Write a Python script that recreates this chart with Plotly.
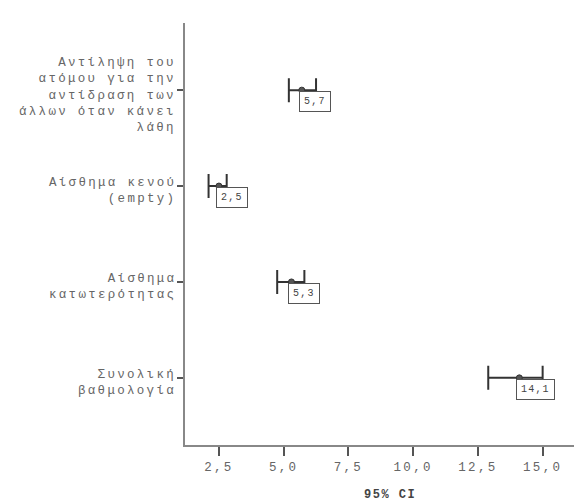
import plotly.graph_objects as go

categories = [
    "Αντίληψη του<br>ατόμου για την<br>αντίδραση των<br>άλλων όταν κάνει<br>λάθη",
    "Αίσθημα κενού<br>(empty)",
    "Αίσθημα<br>κατωτερότητας",
    "Συνολική<br>βαθμολογία",
]
means = [5.7, 2.5, 5.3, 14.1]
ci_lower = [5.2, 2.1, 4.75, 12.9]
ci_upper = [6.25, 2.8, 5.8, 15.0]
mean_labels = ["5,7", "2,5", "5,3", "14,1"]
x_tickvals = [2.5, 5.0, 7.5, 10.0, 12.5, 15.0]
x_ticktext = ["2,5", "5,0", "7,5", "10,0", "12,5", "15,0"]
x_title = "95% CI"

ypos = list(range(len(categories)))
err_plus = [u - m for u, m in zip(ci_upper, means)]
err_minus = [m - l for m, l in zip(means, ci_lower)]

MONO = "Liberation Mono, Courier New, monospace"


def spaced(s, ls=2.3):
    return "<br>".join(
        f'<span style="letter-spacing:{ls}px">{line}</span>' for line in s.split("<br>")
    )


fig = go.Figure()
fig.add_trace(go.Scatter(
    x=means, y=ypos, mode="markers",
    marker=dict(symbol="circle", size=6, color="#555555",
                line=dict(color="#333333", width=1)),
    error_x=dict(type="data", symmetric=False, array=err_plus,
                 arrayminus=err_minus, color="#333333", thickness=2, width=12),
    showlegend=False, hoverinfo="skip",
))

for m, y, t in zip(means, ypos, mean_labels):
    fig.add_annotation(
        x=m, y=y, text=spaced(t, 1.2), showarrow=False, xanchor="left", yanchor="top",
        xshift=-3, yshift=-1,
        font=dict(family=MONO, size=10, color="#444444"),
        bgcolor="white", bordercolor="#555555", borderwidth=1, borderpad=4,
    )

for y, c in zip(ypos, categories):
    fig.add_annotation(
        x=0, y=y, xref="paper", yref="y", text=spaced(c), showarrow=False,
        xanchor="right", yanchor="middle", align="right", xshift=-7, yshift=-5,
        font=dict(family=MONO, size=12.5, color="#666666"),
    )

fig.add_annotation(
    x=9.1, y=0, xref="x", yref="paper", text=f"<b>{spaced(x_title, 1.5)}</b>",
    showarrow=False, xanchor="center", yanchor="middle", yshift=-50,
    font=dict(family=MONO, size=12, color="#444444"),
)

fig.update_layout(
    width=574, height=494,
    margin=dict(l=177, r=0, t=15, b=57),
    paper_bgcolor="white", plot_bgcolor="white",
    font=dict(family=MONO, color="#555555"),
    xaxis=dict(
        range=[1.19, 16.52], tickvals=x_tickvals,
        ticktext=[spaced(t) for t in x_ticktext], automargin=False,
        showgrid=False, zeroline=False, showline=True, linecolor="#888888",
        linewidth=2, ticks="outside", ticklen=9, tickwidth=1.5, tickcolor="#555555",
        tickfont=dict(family=MONO, size=12.5, color="#666666"),
    ),
    yaxis=dict(
        range=[3.7, -0.7], tickvals=ypos, showticklabels=False,
        automargin=False,
        showgrid=False, zeroline=False, showline=True, linecolor="#888888",
        linewidth=2, ticks="outside", ticklen=6, tickwidth=1.5, tickcolor="#555555",
    ),
)

fig.write_html("out.html")
